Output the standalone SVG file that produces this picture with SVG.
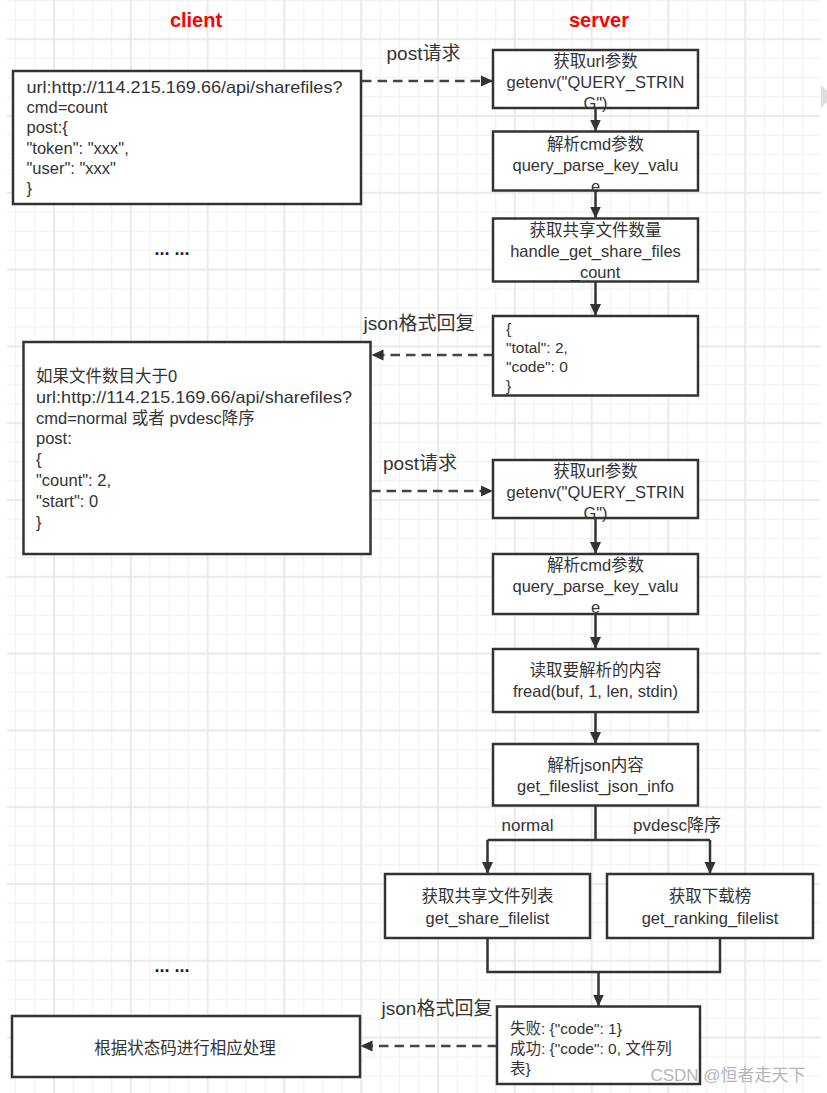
<svg xmlns="http://www.w3.org/2000/svg" width="827" height="1093" viewBox="0 0 827 1093">
<style>
text{font-family:"Liberation Sans","Noto Sans CJK SC",sans-serif;fill:#333;}
.box{fill:#fff;stroke:#333;stroke-width:2.5;}
.t{font-size:16.5px;}
.tc{font-size:16.5px;text-anchor:middle;}
.ts{font-size:15.5px;}
.lbl{font-size:19px;text-anchor:middle;}
.br{font-size:17px;text-anchor:middle;}
.title{font-size:20px;font-weight:bold;fill:#ff0000;text-anchor:middle;}
.dots{font-size:18px;font-weight:bold;fill:#222;text-anchor:middle;}
.ln{fill:none;stroke:#333;stroke-width:2.5;}
.dash{fill:none;stroke:#444;stroke-width:2.5;stroke-dasharray:9.5 6;}
</style>
<defs>
<pattern id="grid" patternUnits="userSpaceOnUse" x="15.1" y="0.3" width="76.8" height="76.8">
<rect x="0" y="0" width="1" height="76.8" fill="#f0f0f0"/>
<rect x="19.2" y="0" width="1" height="76.8" fill="#f0f0f0"/>
<rect x="57.6" y="0" width="1" height="76.8" fill="#f0f0f0"/>
<rect x="0" y="0" width="76.8" height="1" fill="#f0f0f0"/>
<rect x="0" y="19.2" width="76.8" height="1" fill="#f0f0f0"/>
<rect x="0" y="57.6" width="76.8" height="1" fill="#f0f0f0"/>
<rect x="38.1" y="0" width="1.6" height="76.8" fill="#e5e5e5"/>
<rect x="0" y="38.1" width="76.8" height="1.6" fill="#e5e5e5"/>
</pattern>
<marker id="ah" viewBox="0 0 12 12" refX="12" refY="6" markerWidth="12" markerHeight="12" markerUnits="userSpaceOnUse" orient="auto">
<path d="M0,0.5 L12,6 L0,11.5 z" fill="#333"/>
</marker>
</defs>
<rect x="0" y="0" width="827" height="1093" fill="#fff"/>
<rect x="7" y="0" width="814" height="1093" fill="url(#grid)"/>
<polygon points="821,85 827,91 827,102 821,108" fill="#ddd"/>

<g id="titles">
<text class="title" x="196" y="27">client</text>
<text class="title" x="599" y="27">server</text>
</g>

<g id="connectors">
<path class="dash" d="M362,81 H493" marker-end="url(#ah)"/>
<path class="dash" d="M493,355 H371.5" marker-end="url(#ah)"/>
<path class="dash" d="M371,491 H493" marker-end="url(#ah)"/>
<path class="dash" d="M497,1046 H360.5" marker-end="url(#ah)"/>
<path class="ln" d="M595.5,108 V131.5" marker-end="url(#ah)"/>
<path class="ln" d="M595.5,190.5 V218.5" marker-end="url(#ah)"/>
<path class="ln" d="M595.5,281.5 V316" marker-end="url(#ah)"/>
<path class="ln" d="M595.5,518 V554" marker-end="url(#ah)"/>
<path class="ln" d="M595.5,614 V649" marker-end="url(#ah)"/>
<path class="ln" d="M595.5,712 V744" marker-end="url(#ah)"/>
<path class="ln" d="M595.5,805.5 V840 M487.5,840 H710"/>
<path class="ln" d="M487.5,840 V874" marker-end="url(#ah)"/>
<path class="ln" d="M710,840 V874" marker-end="url(#ah)"/>
<path class="ln" d="M487.5,938 V972 H720 V938"/>
<path class="ln" d="M598.5,972 V1006.5" marker-end="url(#ah)"/>
<text class="lbl" x="423.5" y="60">post请求</text>
<text class="lbl" x="419" y="330">json格式回复</text>
<text class="lbl" x="420" y="470">post请求</text>
<text class="lbl" x="437" y="1015">json格式回复</text>
<text class="br" x="527.5" y="831">normal</text>
<text class="br" x="677" y="831">pvdesc降序</text>
</g>

<g id="client1">
<rect class="box" x="13" y="71" width="348" height="133"/>
<text class="t" x="26.5" y="92.5" textLength="316" lengthAdjust="spacingAndGlyphs">url:http://114.215.169.66/api/sharefiles?</text>
<text class="t" x="26.5" y="113">cmd=count</text>
<text class="t" x="26.5" y="133.3">post:{</text>
<text class="t" x="26.5" y="153.6">"token": "xxx",</text>
<text class="t" x="26.5" y="174">"user": "xxx"</text>
<text class="t" x="26.5" y="194.3">}</text>
</g>

<g id="dots1"><text class="dots" x="172" y="255">... ...</text></g>

<g id="client2">
<rect class="box" x="23.5" y="342" width="347" height="212"/>
<text class="t" x="36" y="382">如果文件数目大于0</text>
<text class="t" x="36" y="402.8" textLength="316" lengthAdjust="spacingAndGlyphs">url:http://114.215.169.66/api/sharefiles?</text>
<text class="t" x="36" y="423.6">cmd=normal 或者 pvdesc降序</text>
<text class="t" x="36" y="444.4">post:</text>
<text class="t" x="36" y="465.2">{</text>
<text class="t" x="36" y="486">"count": 2,</text>
<text class="t" x="36" y="506.8">"start": 0</text>
<text class="t" x="36" y="527.6">}</text>
</g>

<g id="dots2"><text class="dots" x="172" y="972">... ...</text></g>

<g id="client3">
<rect class="box" x="12" y="1016" width="348" height="61"/>
<text class="tc" x="185" y="1054">根据状态码进行相应处理</text>
</g>

<g id="s1">
<rect class="box" x="493" y="50" width="205" height="58"/>
<text class="tc" x="595.5" y="67">获取url参数</text>
<text class="tc" x="595.5" y="88">getenv("QUERY_STRIN</text>
<text class="tc" x="595.5" y="109">G")</text>
</g>

<g id="s2">
<rect class="box" x="493" y="131.5" width="205" height="59"/>
<text class="tc" x="595.5" y="149.5">解析cmd参数</text>
<text class="tc" x="595.5" y="170.5">query_parse_key_valu</text>
<text class="tc" x="595.5" y="191.5">e</text>
</g>

<g id="s3">
<rect class="box" x="493" y="218.5" width="205" height="63"/>
<text class="tc" x="595.5" y="236">获取共享文件数量</text>
<text class="tc" x="595.5" y="257">handle_get_share_files</text>
<text class="tc" x="595.5" y="278">_count</text>
</g>

<g id="s4">
<rect class="box" x="493" y="316" width="205" height="79.5"/>
<text class="ts" x="506" y="334">{</text>
<text class="ts" x="506" y="353">"total": 2,</text>
<text class="ts" x="506" y="372">"code": 0</text>
<text class="ts" x="506" y="391">}</text>
</g>

<g id="s5">
<rect class="box" x="493" y="460" width="205" height="58"/>
<text class="tc" x="595.5" y="477">获取url参数</text>
<text class="tc" x="595.5" y="498">getenv("QUERY_STRIN</text>
<text class="tc" x="595.5" y="519">G")</text>
</g>

<g id="s6">
<rect class="box" x="493" y="554" width="205" height="60"/>
<text class="tc" x="595.5" y="571">解析cmd参数</text>
<text class="tc" x="595.5" y="592">query_parse_key_valu</text>
<text class="tc" x="595.5" y="613">e</text>
</g>

<g id="s7">
<rect class="box" x="493" y="649" width="205" height="63"/>
<text class="tc" x="595.5" y="676">读取要解析的内容</text>
<text class="tc" x="595.5" y="697">fread(buf, 1, len, stdin)</text>
</g>

<g id="s8">
<rect class="box" x="493" y="744" width="205" height="61.5"/>
<text class="tc" x="595.5" y="771">解析json内容</text>
<text class="tc" x="595.5" y="792">get_fileslist_json_info</text>
</g>

<g id="s9">
<rect class="box" x="385" y="874" width="205" height="64"/>
<text class="tc" x="487.5" y="902">获取共享文件列表</text>
<text class="tc" x="487.5" y="924">get_share_filelist</text>
</g>

<g id="s10">
<rect class="box" x="607" y="874" width="206" height="64"/>
<text class="tc" x="710" y="902">获取下载榜</text>
<text class="tc" x="710" y="924">get_ranking_filelist</text>
</g>

<g id="s11">
<rect class="box" x="497" y="1006.5" width="203" height="77.5"/>
<text class="ts" x="510" y="1034">失败: {"code": 1}</text>
<text class="ts" x="510" y="1054">成功: {"code": 0, 文件列</text>
<text class="ts" x="510" y="1074">表}</text>
</g>

<g id="watermark"><text x="728" y="1081" style="font-size:17px;fill:#b5b5b5;text-anchor:middle;">CSDN @恒者走天下</text></g>
</svg>
